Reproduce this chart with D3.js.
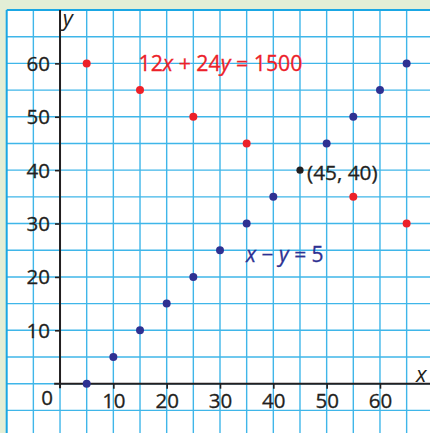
<!DOCTYPE html>
<html>
<head>
<meta charset="utf-8">
<script src="https://cdn.jsdelivr.net/npm/d3@7"></script>
<style>
  html, body { margin: 0; padding: 0; background: #e3eed6; }
  svg { display: block; }
  text { font-family: "Open Sans", "Noto Sans", sans-serif; }
</style>
</head>
<body>
<svg id="chart" width="430" height="433"></svg>
<script>
// Data
const xTicks = [10, 20, 30, 40, 50, 60];
const yTicks = [10, 20, 30, 40, 50, 60];
const redX = [5, 15, 25, 35, 55, 65];
const redY = [60, 55, 50, 45, 35, 30];
const blueX = [5, 10, 15, 20, 25, 30, 35, 40, 50, 55, 60, 65];
const blueY = [0, 5, 10, 15, 20, 25, 30, 35, 45, 50, 55, 60];
const solutionPoint = [45, 40];
const redLabel = ["12", "x", " + 24", "y", " = 1500"];
const blueLabel = ["x", " \u2212 ", "y", " = 5"];
const solutionLabel = "(45, 40)";

const W = 430, H = 433;
const svg = d3.select("#chart");

const x = d3.scaleLinear().domain([-10, 70]).range([6.7, 433.3]);
const y = d3.scaleLinear().domain([0, 70]).range([383.7, 10]);

// paper panel
svg.append("rect")
  .attr("x", x(-10)).attr("y", y(70))
  .attr("width", W - x(-10)).attr("height", H - y(70))
  .attr("fill", "#ffffff");

// grid
const gridColor = "#3fb6e9";
const vLines = d3.range(-5, 70, 5);
const hLines = d3.range(-5, 70, 5);
svg.append("g").selectAll("line").data(vLines).join("line")
  .attr("x1", d => x(d)).attr("x2", d => x(d))
  .attr("y1", y(70)).attr("y2", H)
  .attr("stroke", gridColor).attr("stroke-width", 1.4);
svg.append("g").selectAll("line").data(hLines).join("line")
  .attr("y1", d => y(d)).attr("y2", d => y(d))
  .attr("x1", x(-10)).attr("x2", W)
  .attr("stroke", gridColor).attr("stroke-width", 1.4);
// border
svg.append("line").attr("x1", x(-10)).attr("x2", W).attr("y1", y(70)).attr("y2", y(70))
  .attr("stroke", "#1aa7e4").attr("stroke-width", 2);
svg.append("line").attr("x1", x(-10)).attr("x2", x(-10)).attr("y1", y(70)).attr("y2", H)
  .attr("stroke", "#1aa7e4").attr("stroke-width", 2);

const ink = "#231f20";

// axes
const xAxis = d3.axisBottom(x).tickValues(xTicks).tickSize(5).tickPadding(5).tickSizeOuter(0);
const yAxis = d3.axisLeft(y).tickValues(yTicks).tickSize(5).tickPadding(5).tickSizeOuter(0);

const gx = svg.append("g").attr("transform", `translate(0,${y(0)})`).call(xAxis);
const gy = svg.append("g").attr("transform", `translate(${x(0)},0)`).call(yAxis);
[gx, gy].forEach(g => {
  g.select(".domain").remove();
  g.selectAll(".tick line").attr("stroke", ink).attr("stroke-width", 1.6);
  g.selectAll(".tick text").attr("fill", ink).attr("font-size", 20.5)
    .attr("stroke", ink).attr("stroke-width", 0.3)
    .attr("font-family", "'Open Sans', sans-serif");
});
gx.selectAll(".tick text").attr("dy", "0.7em");
gy.selectAll(".tick text").attr("dy", "0.34em");

// axis lines
svg.append("line").attr("x1", x(-1.1)).attr("x2", W).attr("y1", y(0)).attr("y2", y(0))
  .attr("stroke", ink).attr("stroke-width", 2);
svg.append("line").attr("x1", x(0)).attr("x2", x(0)).attr("y1", y(70)).attr("y2", y(0) + 4.5)
  .attr("stroke", ink).attr("stroke-width", 2);

// axis names
svg.append("text").attr("x", x(0.5)).attr("y", 26)
  .attr("font-size", 22).attr("font-style", "italic").attr("fill", ink).text("y");
svg.append("text").attr("x", 416).attr("y", 382)
  .attr("font-size", 22).attr("font-style", "italic").attr("fill", ink).text("x");
svg.append("text").attr("x", 53).attr("y", 405).attr("text-anchor", "end")
  .attr("font-size", 20.5).attr("fill", ink).attr("stroke", ink).attr("stroke-width", 0.3).text("0");

// points
const red = "#ec2129", blue = "#2e3192";
svg.append("g").selectAll("circle").data(d3.zip(redX, redY)).join("circle")
  .attr("cx", d => x(d[0])).attr("cy", d => y(d[1])).attr("r", 4).attr("fill", red);
svg.append("g").selectAll("circle").data(d3.zip(blueX, blueY)).join("circle")
  .attr("cx", d => x(d[0])).attr("cy", d => y(d[1])).attr("r", 4).attr("fill", blue);
svg.append("circle").attr("cx", x(solutionPoint[0])).attr("cy", y(solutionPoint[1]))
  .attr("r", 3.6).attr("fill", ink);

// labels
function richText(parts, xx, yy, color, size) {
  const t = svg.append("text").attr("x", xx).attr("y", yy).attr("fill", color)
    .attr("stroke", color).attr("stroke-width", 0.3).attr("font-size", size);
  parts.forEach(p => {
    const s = t.append("tspan").text(p);
    if (p === "x" || p === "y") s.attr("font-style", "italic");
  });
  t.attr("xml:space", "preserve").style("white-space", "pre");
  return t;
}
richText(redLabel, 138.5, 71, red, 21.3);
richText(blueLabel, 246, 261.5, blue, 21);
svg.append("text").attr("x", 307).attr("y", 180).attr("fill", ink)
  .attr("stroke", ink).attr("stroke-width", 0.3).attr("font-size", 20.8)
  .text(solutionLabel);
</script>
</body>
</html>
